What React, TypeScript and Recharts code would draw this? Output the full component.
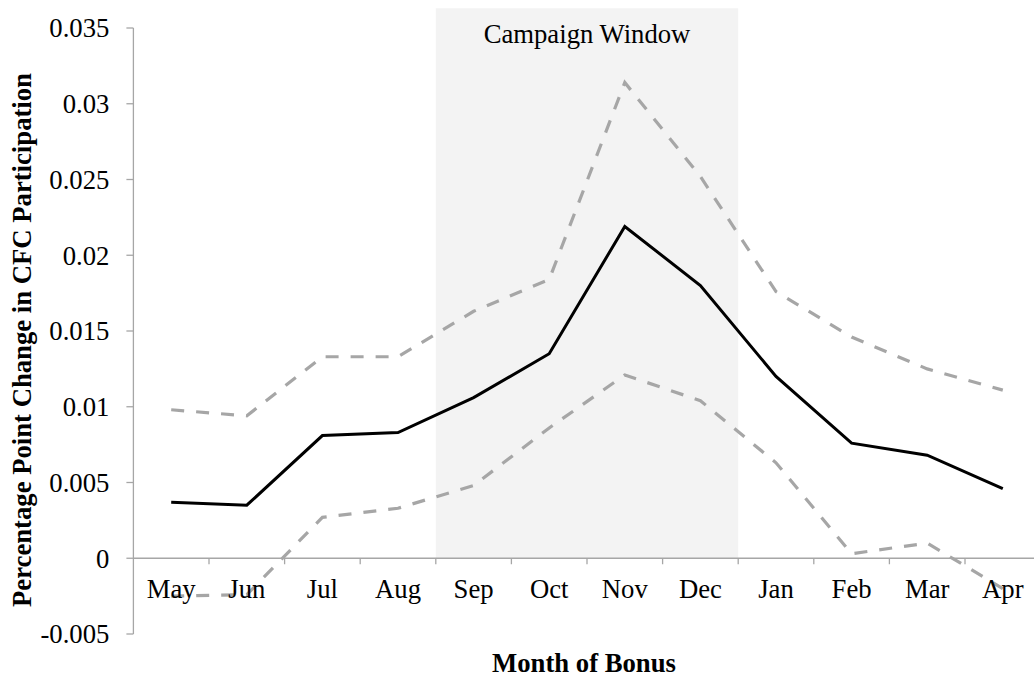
import React from 'react';
import {
    ComposedChart,
    Line,
    XAxis,
    YAxis,
    ReferenceArea,
    ReferenceLine,
    Label
} from 'recharts';

// months of the bonus, fiscal order
const months = ['May', 'Jun', 'Jul', 'Aug', 'Sep', 'Oct', 'Nov', 'Dec', 'Jan', 'Feb', 'Mar', 'Apr'];
// point estimate
const estimate = [0.0037, 0.0035, 0.0081, 0.0083, 0.0106, 0.0135, 0.0219, 0.018, 0.012, 0.0076, 0.0068, 0.0046];
// confidence bounds
const upperBound = [0.0098, 0.0094, 0.0133, 0.0133, 0.0163, 0.0184, 0.0314, 0.0252, 0.0176, 0.0146, 0.0125, 0.0111];
const lowerBound = [-0.0025, -0.0024, 0.0027, 0.0033, 0.0048, 0.0086, 0.0121, 0.0104, 0.0063, 0.0003, 0.001, -0.002];

const yTicks = [-0.005, 0, 0.005, 0.01, 0.015, 0.02, 0.025, 0.03, 0.035];
const yMin = -0.005;
const yMax = 0.035;

const campaignStart = 'Sep';
const campaignEnd = 'Dec';
const campaignTop = 0.0363;

const data = months.map((m, i) => ({
    month: m,
    est: estimate[i],
    hi: upperBound[i],
    lo: lowerBound[i]
}));

const W = 1050;
const H = 677;
const yAxisW = 133.4;
const margin = { top: 28, right: 9.4, bottom: 0, left: 0 };
const xAxisH = 43;
const plotH = H - margin.top - margin.bottom - xAxisH;
const plotW = W - margin.left - margin.right - yAxisW;
const band = plotW / months.length;
const zeroOffset = (plotH * (0 - yMin)) / (yMax - yMin);

const font = '"Liberation Serif", "Times New Roman", serif';
const fs = 26.7;
const axisGray = '#a6a6a6';

const MonthTick = (props: any) => {
    const { x, y, payload, index } = props;
    const zeroY = y - zeroOffset;
    return (
        <g>
            {index > 0 && (
                <line x1={x - band / 2} x2={x - band / 2} y1={zeroY} y2={zeroY + 6} stroke={axisGray} strokeWidth={1.3} />
            )}
            {index === months.length - 1 && (
                <line x1={x + band / 2} x2={x + band / 2} y1={zeroY} y2={zeroY + 6} stroke={axisGray} strokeWidth={1.3} />
            )}
            <text x={x} y={zeroY + 40} textAnchor="middle" fill="#000" fontSize={fs} fontFamily={font}>
                {payload.value}
            </text>
        </g>
    );
};

const App: React.FC = () => {
    return (
        <div style={{ position: 'absolute', left: 0, top: 0, width: 1034, height: 677, overflow: 'hidden', background: '#fff', fontFamily: font }}>
            <ComposedChart width={W} height={H} data={data} margin={margin}>
                <ReferenceArea
                    x1={campaignStart}
                    x2={campaignEnd}
                    y1={0}
                    y2={campaignTop}
                    fill="#f3f3f3"
                    fillOpacity={1}
                    stroke="none"
                    ifOverflow="visible"
                    label={{ value: 'Campaign Window', position: 'insideTop', offset: 16, fill: '#000', fontSize: fs, fontFamily: font }}
                />
                <XAxis
                    dataKey="month"
                    scale="band"
                    height={xAxisH}
                    interval={0}
                    axisLine={false}
                    tickLine={false}
                    tickSize={0}
                    tickMargin={0}
                    tick={<MonthTick />}
                >
                    <Label
                        content={() => (
                            <text x={margin.left + yAxisW + plotW / 2 - 3} y={672} textAnchor="middle" fontSize={fs} fontWeight="bold" fontFamily={font} fill="#000">
                                Month of Bonus
                            </text>
                        )}
                    />
                </XAxis>
                <YAxis
                    width={yAxisW}
                    domain={[yMin, yMax]}
                    ticks={yTicks}
                    interval={0}
                    allowDataOverflow
                    stroke={axisGray}
                    strokeWidth={1.3}
                    tickSize={7}
                    tickMargin={17}
                    tick={{ fill: '#000', fontSize: fs, fontFamily: font }}
                    tickFormatter={(v: number) => String(v)}
                >
                    <Label
                        content={() => (
                            <text x={22} y={340} transform="rotate(-90 22 340)" textAnchor="middle" dominantBaseline="central" fontSize={fs} fontWeight="bold" fontFamily={font} fill="#000">
                                Percentage Point Change in CFC Participation
                            </text>
                        )}
                    />
                </YAxis>
                <ReferenceLine y={0} stroke={axisGray} strokeWidth={1.3} />
                <Line type="linear" dataKey="hi" stroke="#a6a6a6" strokeWidth={3.2} strokeDasharray="13 12" dot={false} activeDot={false} isAnimationActive={false} />
                <Line type="linear" dataKey="lo" stroke="#a6a6a6" strokeWidth={3.2} strokeDasharray="13 12" dot={false} activeDot={false} isAnimationActive={false} />
                <Line type="linear" dataKey="est" stroke="#000" strokeWidth={3} dot={false} activeDot={false} isAnimationActive={false} />
            </ComposedChart>
        </div>
    );
};

export default App;
